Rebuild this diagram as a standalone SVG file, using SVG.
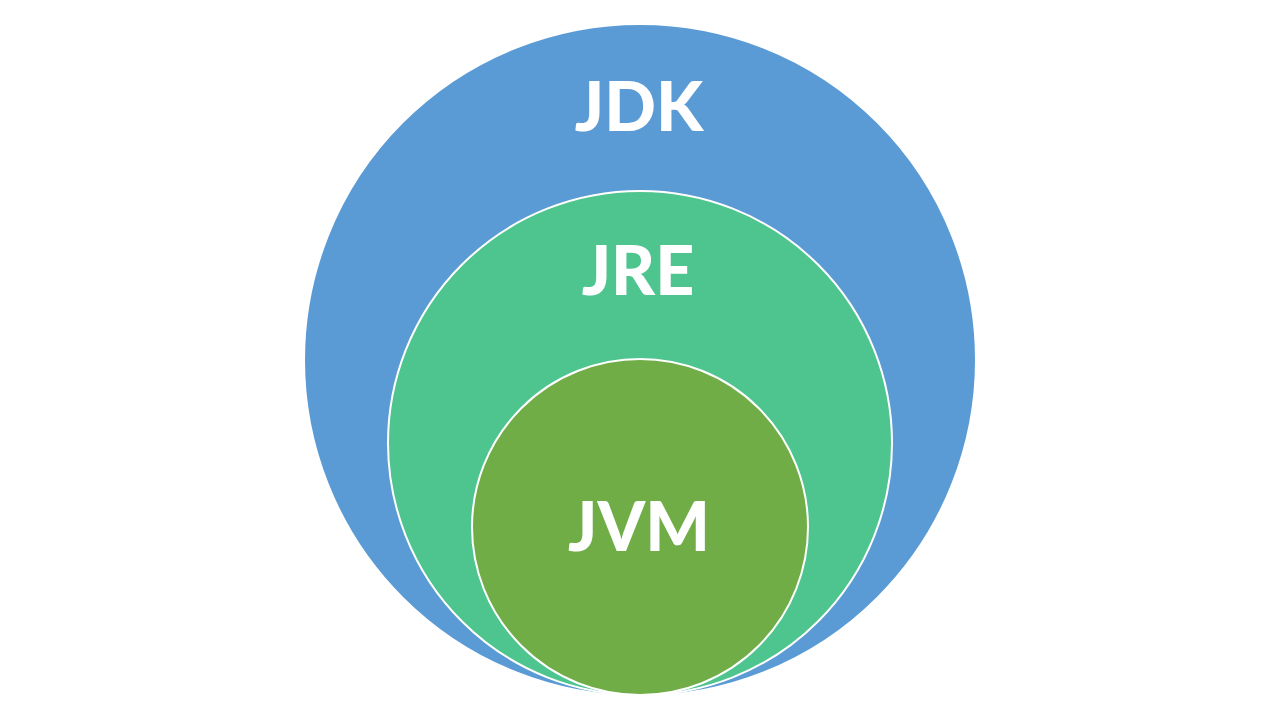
<svg xmlns="http://www.w3.org/2000/svg" width="1280" height="720" viewBox="0 0 1280 720">
<style>
.c{stroke:#ffffff;stroke-width:2}
.t{font-family:Lato,"Open Sans","Liberation Sans",sans-serif;font-weight:900;font-size:68px;fill:#ffffff;text-anchor:middle}
</style>
<rect width="1280" height="720" fill="#ffffff"/>
<g id="jdk"><circle class="c" cx="640" cy="360" r="336" fill="#5B9BD5"/><text class="t" x="639" y="131">JDK</text></g>
<g id="jre"><circle class="c" cx="640" cy="443" r="252" fill="#4EC48E"/><text class="t" x="638" y="295">JRE</text></g>
<g id="jvm"><circle class="c" cx="640" cy="527" r="168" fill="#70AD47"/><text class="t" x="639" y="551">JVM</text></g>
<g id="connectors"/>
</svg>
